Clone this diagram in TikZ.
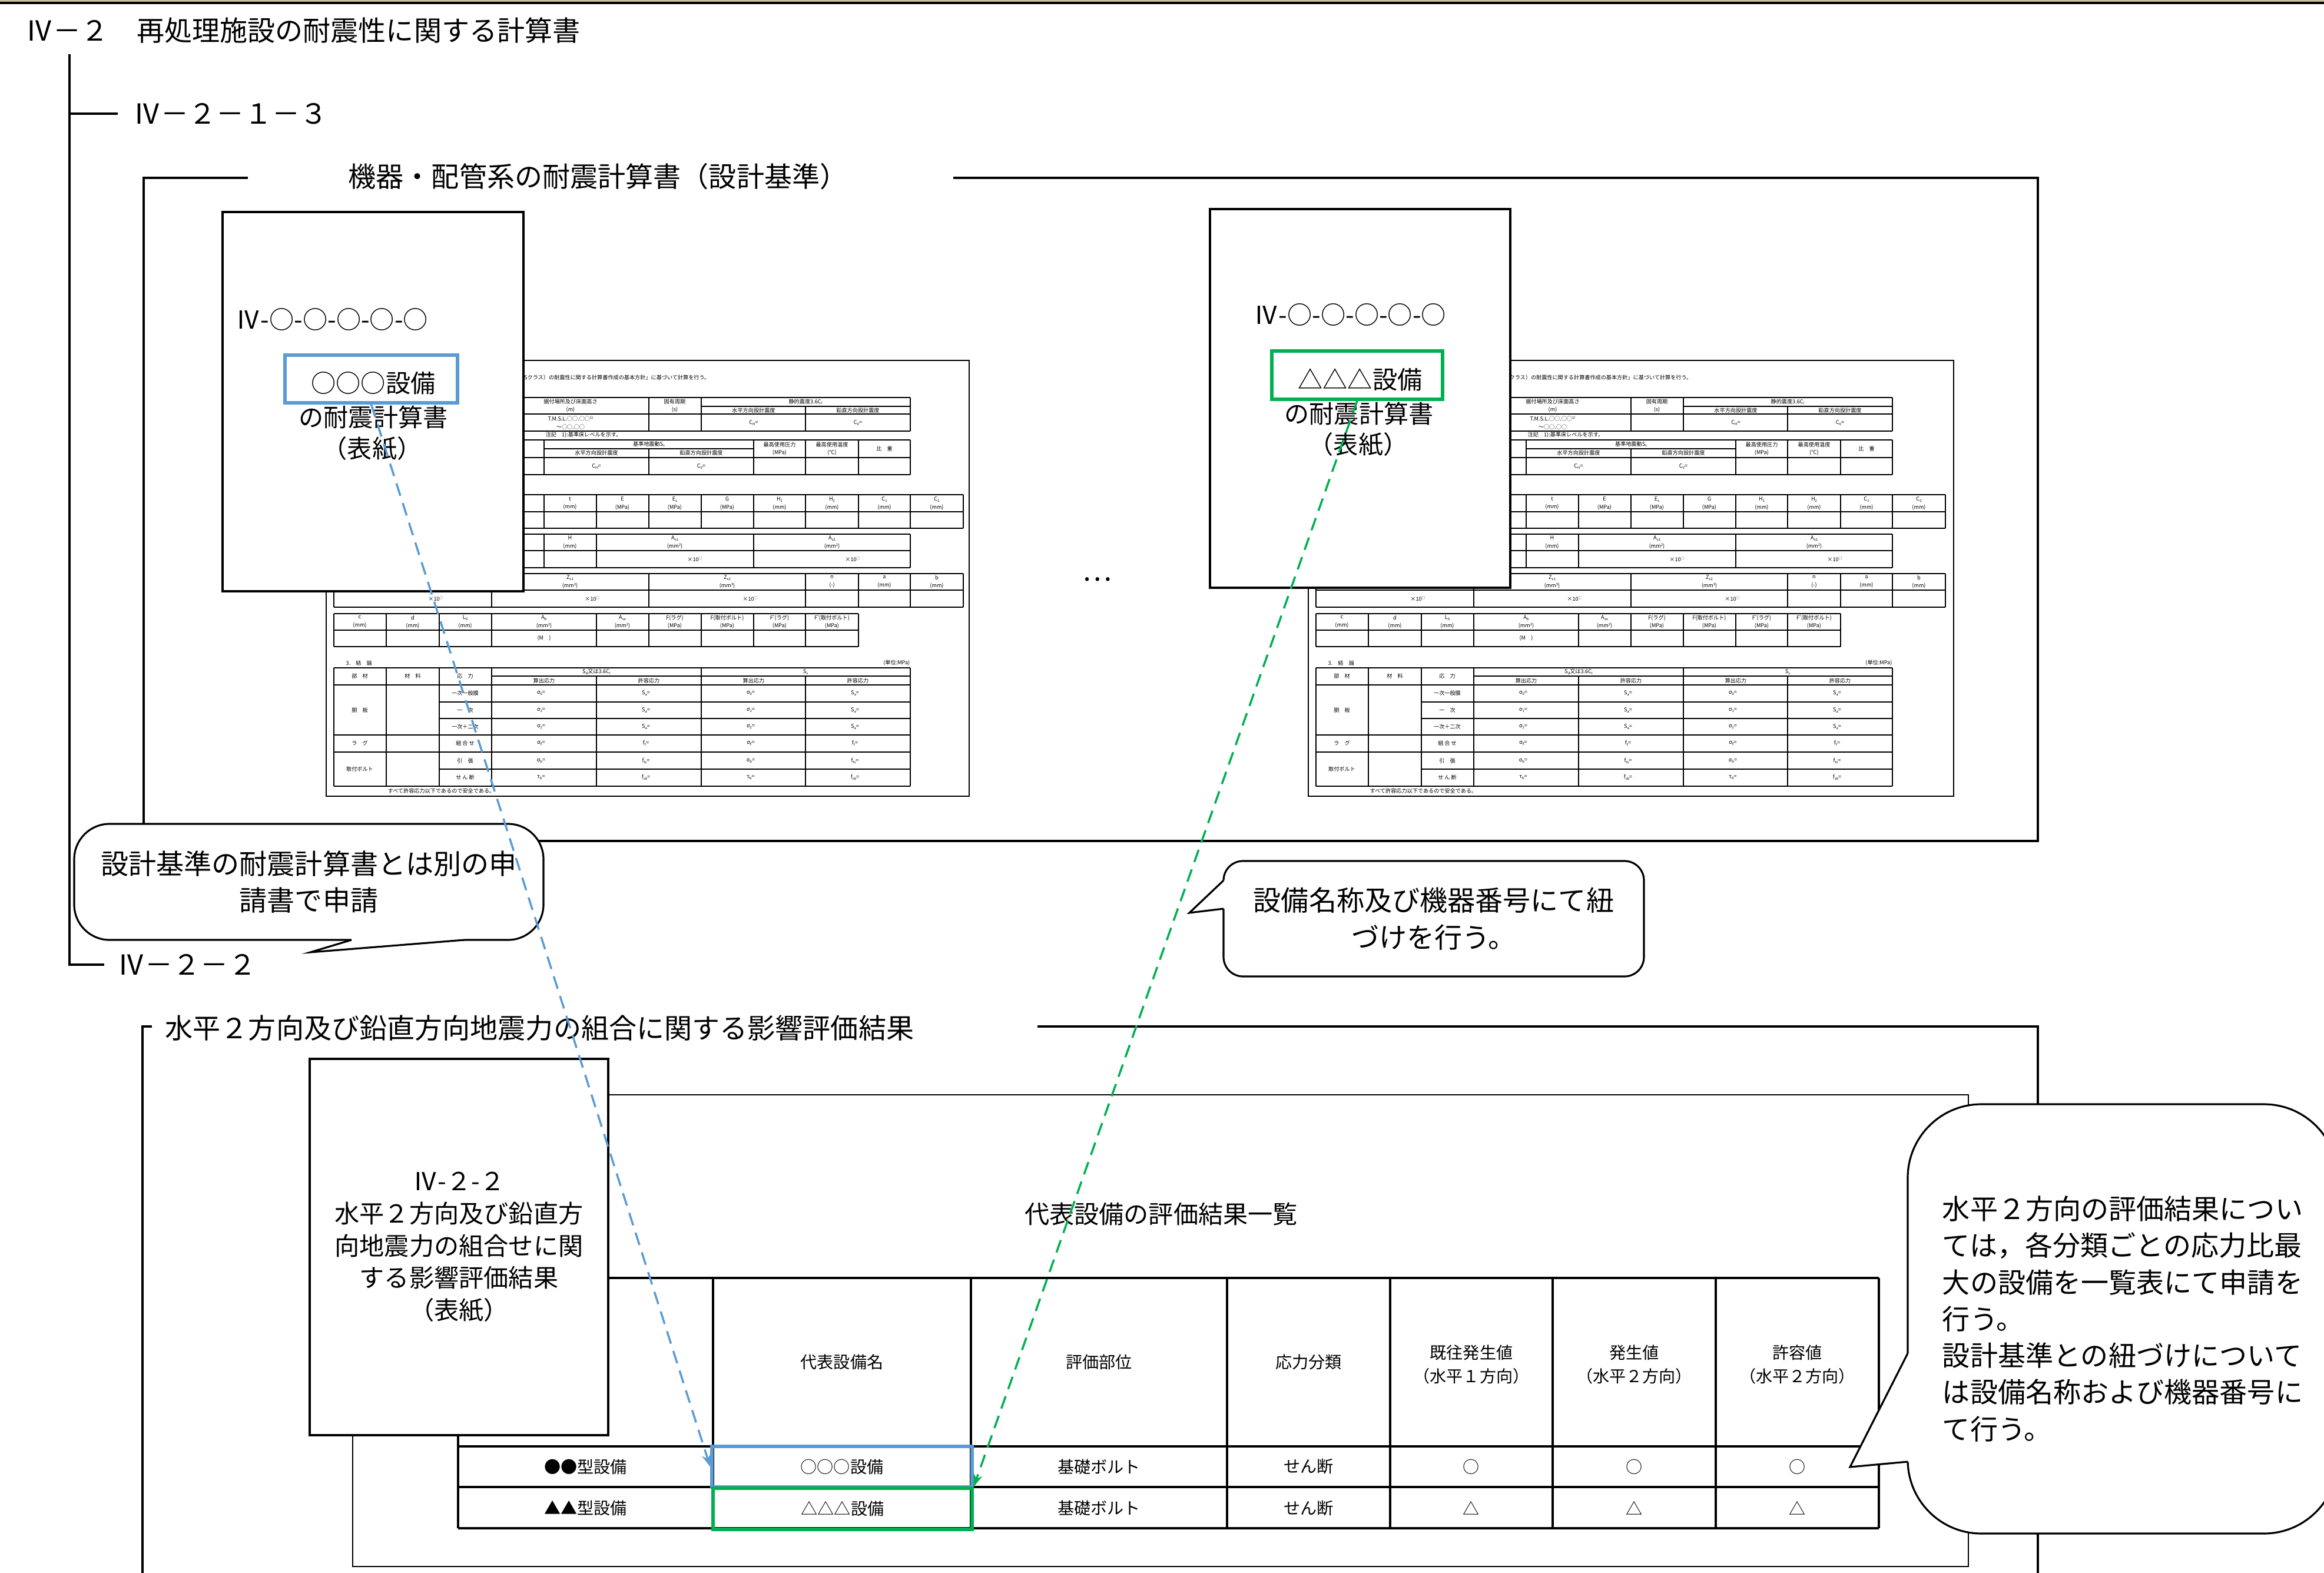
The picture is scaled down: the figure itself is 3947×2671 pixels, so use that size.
\documentclass[tikz,border=0pt]{standalone}
\usepackage{fontspec}
\usepackage{graphicx}
\setmainfont{Noto Sans CJK JP}
\usetikzlibrary{arrows.meta}
\definecolor{lblue}{RGB}{91,155,213}
\definecolor{lgreen}{RGB}{0,176,80}
\definecolor{stripc}{RGB}{200,190,160}
\newcounter{tcn}
\newcommand\sbs[1]{\raisebox{-0.3ex}{\scalebox{0.65}{#1}}}
\newcommand\sps[1]{\raisebox{0.6ex}{\scalebox{0.65}{#1}}}
\newcommand\tc[3]{\stepcounter{tcn}\node[tinyt] (t\arabic{tcn}) at (#1,#2) {#3};}
\newcommand\tcw[3]{\stepcounter{tcn}\node[tinyt,anchor=west] (t\arabic{tcn}) at (#1,#2) {#3};}
\newcommand\tce[3]{\stepcounter{tcn}\node[tinyt,anchor=east] (t\arabic{tcn}) at (#1,#2) {#3};}
\tikzset{
  bigt/.style={inner sep=0, font=\fontsize{13.4}{17.9}\selectfont},
  cardt/.style={inner sep=0, align=center, font=\fontsize{12}{15.6}\selectfont},
  tblt/.style={inner sep=0, align=center, font=\fontsize{8}{11.6}\selectfont},
  tinyt/.style={inner sep=0, align=center, font=\fontsize{2.6}{3.8}\selectfont},
  framel/.style={line width=1.15pt},
  cardbox/.style={draw, fill=white, line width=0.9pt, inner sep=0},
  sheetl/.style={line width=0.6pt},
  gridl/.style={line width=0.35pt},
  tbll/.style={line width=0.9pt},
  callout/.style={draw, fill=white, line width=0.9pt, inner sep=0, align=center, font=\fontsize{13.4}{17.7}\selectfont},
  tailline/.style={line width=0.9pt, line join=miter},
  hilite/.style={line width=1.6pt, inner sep=0},
  conn/.style={line width=1pt, dash pattern=on 6.3pt off 3.7pt, -{Stealth[length=6pt,width=4.5pt]}},
}
\newcommand\calcsheet[1]{%
\draw[sheetl] (0,0) rectangle (#1,740);
\tce{652}{29}{Sクラス）の耐震性に関する計算書作成の基本方針」に基づいて計算を行う。}
% table 1
\draw[gridl] (13,63) -- (992,63) (13,91) -- (992,91) (13,120) -- (992,120) (637,78) -- (992,78);
\foreach \x in {13,548,637,992} {\draw[gridl] (\x,63) -- (\x,120);}
\draw[gridl] (814,78) -- (814,120);
\tc{415}{77}{据付場所及び床面高さ\\(m)}
\tc{592}{77}{固有周期\\(s)}
\tc{814}{70}{静的震度3.6C\sbs{I}}
\tc{726}{85}{水平方向設計震度}
\tc{903}{85}{鉛直方向設計震度}
\tc{415}{106}{T.M.S.L.○○.○○\sps{1)}\\～○○.○○}
\tc{726}{106}{C\sbs{H}=}
\tc{903}{106}{C\sbs{V}=}
\tcw{372}{127}{注記　1):基準床レベルを示す。}
% table 2
\draw[gridl] (13,135) -- (992,135) (370,150) -- (726,150) (13,165) -- (992,165) (13,194) -- (992,194);
\foreach \x in {13,370,726,814,904,992} {\draw[gridl] (\x,135) -- (\x,194);}
\draw[gridl] (548,150) -- (548,194);
\tc{548}{142}{基準地震動S\sbs{s}}
\tc{459}{157}{水平方向設計震度}
\tc{637}{157}{鉛直方向設計震度}
\tc{770}{150}{最高使用圧力\\(MPa)}
\tc{859}{150}{最高使用温度\\(℃)}
\tc{948}{150}{比　重}
\tc{459}{180}{C\sbs{H}=}
\tc{637}{180}{C\sbs{V}=}
% table 3
\draw[gridl] (13,228) -- (1082,228) (13,257) -- (1082,257) (13,285) -- (1082,285);
\foreach \x in {13,370,459,548,637,726,814,904,992,1082} {\draw[gridl] (\x,228) -- (\x,285);}
\tc{414}{243}{t\\(mm)} \tc{503}{243}{E\\(MPa)} \tc{592}{243}{E\sbs{s}\\(MPa)} \tc{681}{243}{G\\(MPa)}
\tc{770}{243}{H\sbs{1}\\(mm)} \tc{859}{243}{H\sbs{2}\\(mm)} \tc{948}{243}{C\sbs{1}\\(mm)} \tc{1037}{243}{C\sbs{2}\\(mm)}
% table 4
\draw[gridl] (13,295) -- (992,295) (13,323) -- (992,323) (13,352) -- (992,352);
\foreach \x in {13,370,459,726,992} {\draw[gridl] (\x,295) -- (\x,352);}
\tc{414}{309}{H\\(mm)} \tc{592}{309}{A\sbs{s1}\\(mm\sps{2})} \tc{859}{309}{A\sbs{s2}\\(mm\sps{2})}
\tc{626}{338}{×10\sps{○}} \tc{894}{338}{×10\sps{○}}
% table 5
\draw[gridl] (13,362) -- (1082,362) (13,390) -- (1082,390) (13,419) -- (1082,419);
\foreach \x in {13,281,548,814,904,992,1082} {\draw[gridl] (\x,362) -- (\x,419);}
\tc{414}{376}{Z\sbs{s1}\\(mm\sps{3})} \tc{681}{376}{Z\sbs{s2}\\(mm\sps{3})} \tc{859}{376}{n\\(-)} \tc{948}{376}{a\\(mm)} \tc{1037}{376}{b\\(mm)}
\tc{186}{405}{×10\sps{○}} \tc{452}{405}{×10\sps{○}} \tc{720}{405}{×10\sps{○}}
% table 6
\draw[gridl] (13,430) -- (904,430) (13,458) -- (904,458) (13,486) -- (904,486);
\foreach \x in {13,102,192,281,459,548,637,726,814,904} {\draw[gridl] (\x,430) -- (\x,486);}
\tc{57}{444}{c\\(mm)} \tc{147}{444}{d\\(mm)} \tc{236}{444}{L\sbs{0}\\(mm)} \tc{370}{444}{A\sbs{b}\\(mm\sps{2})}
\tc{503}{444}{A\sbs{se}\\(mm\sps{2})} \tc{592}{444}{F(ラグ)\\(MPa)} \tc{681}{444}{F(取付ボルト)\\(MPa)}
\tc{770}{444}{F\sps{*}(ラグ)\\(MPa)} \tc{859}{444}{F\sps{*}(取付ボルト)\\(MPa)}
\tc{370}{472}{(M　)}
% conclusion
\tcw{33}{514}{3.　結　論}
\tce{992}{514}{(単位:MPa)}
\draw[gridl] (13,522) -- (992,522) (281,536) -- (992,536) (13,551) -- (992,551) (192,580) -- (992,580)
  (192,608) -- (992,608) (13,636) -- (992,636) (13,665) -- (992,665) (192,694) -- (992,694) (13,723) -- (992,723);
\foreach \x in {13,102,192,281,637,992} {\draw[gridl] (\x,522) -- (\x,723);}
\foreach \x in {459,814} {\draw[gridl] (\x,536) -- (\x,723);}
\tc{57}{536}{部　材} \tc{147}{536}{材　料} \tc{236}{536}{応　力}
\tc{459}{529}{S\sbs{d}又は3.6C\sbs{I}} \tc{814}{529}{S\sbs{s}}
\tc{370}{544}{算出応力} \tc{548}{544}{許容応力} \tc{726}{544}{算出応力} \tc{903}{544}{許容応力}
\tc{57}{594}{胴　板} \tc{57}{650}{ラ　グ} \tc{57}{694}{取付ボルト}
\tc{236}{565}{一次一般膜} \tc{236}{594}{一　次} \tc{236}{622}{一次＋二次}
\tc{236}{650}{組 合 せ} \tc{236}{680}{引　張} \tc{236}{708}{せ ん 断}
\tc{365}{565}{σ\sbs{0}=} \tc{543}{565}{S\sbs{a}=} \tc{721}{565}{σ\sbs{0}=} \tc{898}{565}{S\sbs{a}=}
\tc{365}{594}{σ\sbs{1}=} \tc{543}{594}{S\sbs{a}=} \tc{721}{594}{σ\sbs{1}=} \tc{898}{594}{S\sbs{a}=}
\tc{365}{622}{σ\sbs{2}=} \tc{543}{622}{S\sbs{a}=} \tc{721}{622}{σ\sbs{2}=} \tc{898}{622}{S\sbs{a}=}
\tc{365}{650}{σ\sbs{ℓ}=} \tc{543}{650}{f\sbs{t}=} \tc{721}{650}{σ\sbs{ℓ}=} \tc{898}{650}{f\sbs{t}=}
\tc{365}{680}{σ\sbs{b}=} \tc{543}{680}{f\sbs{ts}=} \tc{721}{680}{σ\sbs{b}=} \tc{898}{680}{f\sbs{ts}=}
\tc{365}{708}{τ\sbs{b}=} \tc{543}{708}{f\sbs{sb}=} \tc{721}{708}{τ\sbs{b}=} \tc{898}{708}{f\sbs{sb}=}
\tcw{104}{731}{すべて許容応力以下であるので安全である。}
}
\begin{document}
\begin{tikzpicture}[x=0.1mm,y=-0.1mm]
\useasboundingbox (0,0) rectangle (3947,2671);
\begin{scope}
\clip (0,0) rectangle (3947,2671);
% top strip
\fill[stripc] (0,0) rectangle (3947,3);
\draw[line width=1.3pt] (0,5) -- (3947,5);
% headings and tree
\node[bigt, anchor=west] (title) at (43,52) {Ⅳ－２　再処理施設の耐震性に関する計算書};
\node[bigt, anchor=west] (s213) at (226,193) {Ⅳ－２－１－３};
\node[bigt, anchor=west] (s22) at (199,1638) {Ⅳ－２－２};
\coordinate (trunk) at (118,92);
\draw[framel, shorten >=2.2mm] (trunk) |- (s22.west);
\draw[framel, shorten >=2.6mm] (trunk |- s213.west) -- (s213.west);
% frame 1
\node[bigt, anchor=west] (f1t) at (591,300) {機器・配管系の耐震計算書（設計基準）};
\draw[framel] (421,302) -- (244,302) -- (244,1428) -- (3461,1428) -- (3461,302) -- (1619,302);
% frame 2
\node[bigt, anchor=west] (f2t) at (280,1746) {水平２方向及び鉛直方向地震力の組合に関する影響評価結果};
\draw[framel] (258,1743) -- (242,1743) -- (242,2690);
\draw[framel] (1762,1743) -- (3461,1743) -- (3461,2690);
% calculation sheets
\begin{scope}[shift={(554,612)}] \calcsheet{1092} \end{scope}
\begin{scope}[shift={(2222,612)}] \calcsheet{1096} \end{scope}
% cover 1
\node[cardbox, minimum width=51.1mm, minimum height=64.4mm] (c1) at (633.5,682) {};
\node[cardt, anchor=west] (c1n) at (400,542) {Ⅳ-○-○-○-○-○};
\node[hilite, draw=lblue, minimum width=29.3mm, minimum height=8.1mm] (bb1) at (630.5,643.5) {};
\node[cardt] (c1a) at (634,651) {○○○設備};
\node[cardt] (c1b) at (634,708) {の耐震計算書};
\node[cardt] (c1c) at (632,762) {（表紙）};
% cover 2
\node[cardbox, minimum width=51mm, minimum height=64.3mm] (c2) at (2310,676.5) {};
\node[cardt, anchor=west] (c2n) at (2129,534) {Ⅳ-○-○-○-○-○};
\node[hilite, draw=lgreen, minimum width=29mm, minimum height=8.2mm] (gb2) at (2305,637) {};
\node[cardt] (c2a) at (2310,645) {△△△設備};
\node[cardt] (c2b) at (2308,702) {の耐震計算書};
\node[cardt] (c2c) at (2307,755) {（表紙）};
\node[bigt] (dots) at (1863,984) {…};
% sheet 3 with table
\draw[tbll, line width=0.8pt] (599,1859) rectangle (3343,2660);
\node[cardt] (s3t) at (1972,2061) {代表設備の評価結果一覧};
\foreach \y in {2170,2456,2525,2595} {\draw[tbll] (778,\y) -- (3191,\y);}
\foreach \x in {778,1211,1649,2084,2361,2637,2914,3191} {\draw[tbll] (\x,2170) -- (\x,2595);}
\node[tblt] (h2) at (1430,2313) {代表設備名};
\node[tblt] (h3) at (1866.5,2313) {評価部位};
\node[tblt] (h4) at (2222.5,2313) {応力分類};
\node[tblt] (h5) at (2499,2317) {既往発生値\\（水平１方向）};
\node[tblt] (h6) at (2775.5,2317) {発生値\\（水平２方向）};
\node[tblt] (h7) at (3052.5,2317) {許容値\\（水平２方向）};
\node[tblt] (r1a) at (994.5,2490.5) {●●型設備};
\node[tblt, hilite, draw=lblue, minimum width=44.2mm, minimum height=6.9mm] (bc) at (1430,2490.5) {○○○設備};
\node[tblt] (r1c) at (1866.5,2490.5) {基礎ボルト};
\node[tblt] (r1d) at (2222.5,2490.5) {せん断};
\node[tblt] (r1e) at (2499,2490.5) {○};
\node[tblt] (r1f) at (2775.5,2490.5) {○};
\node[tblt] (r1g) at (3052.5,2490.5) {○};
\node[tblt] (r2a) at (994.5,2561) {▲▲型設備};
\node[tblt, hilite, draw=lgreen, minimum width=44mm, minimum height=7mm] (gc) at (1431,2562) {△△△設備};
\node[tblt] (r2c) at (1866.5,2561) {基礎ボルト};
\node[tblt] (r2d) at (2222.5,2561) {せん断};
\node[tblt] (r2e) at (2499,2561) {△};
\node[tblt] (r2f) at (2775.5,2561) {△};
\node[tblt] (r2g) at (3052.5,2561) {△};
% cover 3
\node[cardbox, cardt, minimum width=50.7mm, minimum height=63.9mm] (c3) at (779.5,2117.5) {Ⅳ-２-２\\水平２方向及び鉛直方\\向地震力の組合せに関\\する影響評価結果\\（表紙）};
% callouts
\node[callout, rounded corners=6mm, minimum width=79.7mm, minimum height=19.7mm] (co1) at (524.5,1497.5) {設計基準の耐震計算書とは別の申\\請書で申請};
\fill[white] (597,1590) -- (597,1596) -- (527,1617) -- (789,1596) -- (789,1590) -- cycle;
\draw[tailline] (597,1596) -- (527,1617) -- (789,1596);
\node[callout, rounded corners=3.3mm, minimum width=71.4mm, minimum height=19.6mm] (co2) at (2435,1560) {設備名称及び機器番号にて紐\\づけを行う。};
\fill[white] (2084,1495) -- (2078,1495) -- (2020,1550) -- (2078,1543) -- (2084,1543) -- cycle;
\draw[tailline] (2078,1495) -- (2020,1550) -- (2078,1543);
\node[callout, align=left, rounded corners=12.5mm, minimum width=73mm, minimum height=72.9mm] (co3) at (3605,2239.5) {水平２方向の評価結果につい\\ては，各分類ごとの応力比最\\大の設備を一覧表にて申請を\\行う。\\設計基準との紐づけについて\\は設備名称および機器番号に\\て行う。};
\fill[white] (3246,2298) -- (3240,2298) -- (3142,2491) -- (3240,2482) -- (3246,2482) -- cycle;
\draw[tailline] (3240,2298) -- (3142,2491) -- (3240,2482);
% connectors
\draw[conn, color=lblue] (bb1.south) -- (bc.west);
\draw[conn, color=lgreen] (gb2.south) -- (gc.north east);
\end{scope}
\end{tikzpicture}
\end{document}
